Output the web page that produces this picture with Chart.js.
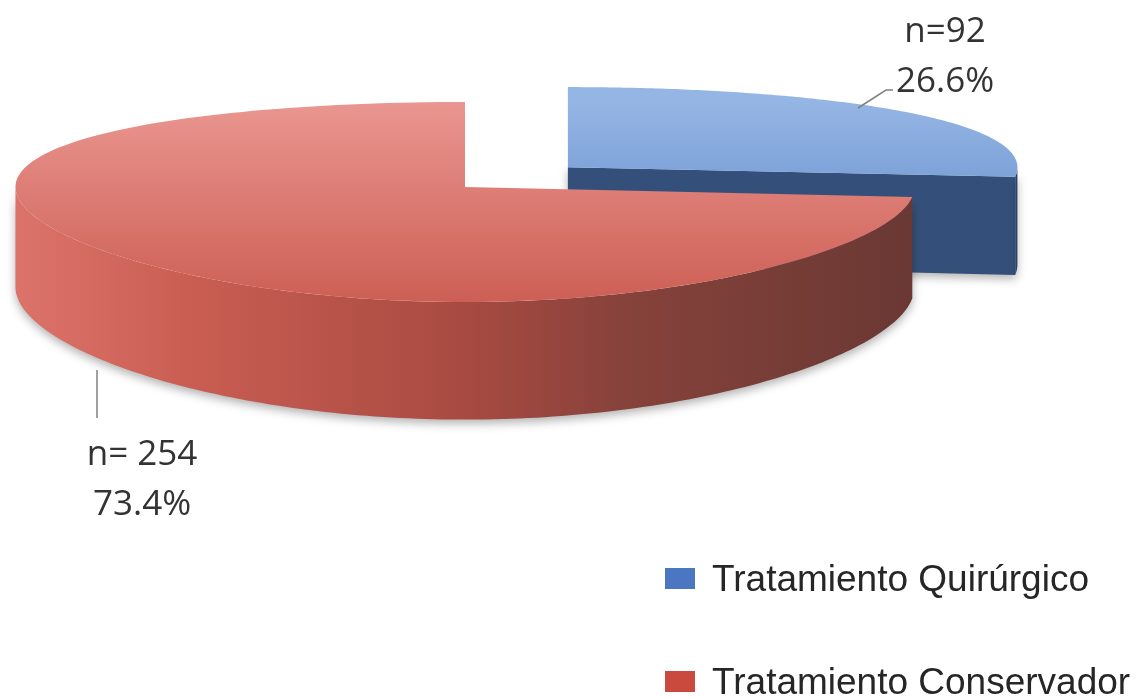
<!DOCTYPE html>
<html><head><meta charset="utf-8">
<script src="https://cdn.jsdelivr.net/npm/chart.js@4.4.0/dist/chart.umd.min.js"></script>
<style>html,body{margin:0;padding:0;background:#fff;} canvas{display:block;}</style>
</head><body>
<canvas id="c" width="1145" height="698"></canvas>
<script>
// ---- data ----
const categories = ['Tratamiento Quirúrgico', 'Tratamiento Conservador'];
const counts = [92, 254];
const countLabels = ['n=92', 'n= 254'];
const percentLabels = ['26.6%', '73.4%'];

// ---- style ----
const explodeOffset = [50, 0];
const legendColors = ['#4a76c2', '#cb4a3e'];
const topBack = ['#95b5e4', '#ea9690'];
const topFront = ['#5784c6', '#cd5f55'];
const sideStops = [
  [[0, '#3c5a86'], [1, '#2c4366']],
  [[0, '#dc736a'], [0.2, '#c95d52'], [0.5, '#a84a41'], [0.68, '#86423b'], [1, '#6a3833']]
];
const radialWall = ['#34507a', '#8a4038'];
const GEO = { rx: 2.775, ry: 0.6034, depth: 0.617, persp: 0.15 };
const LABEL = {
  font: '35px "Open Sans"', color: '#333333',
  pos: [ {x: 945, y1: 42, y2: 92}, {x: 142, y1: 465, y2: 515} ],
  leaders: [ [[893, 90], [886, 90], [858, 108]], [[97, 370], [97, 418]] ]
};
const LEGEND = { x: 665, y: [568, 671], box: [30, 21], textX: 712, font: '37px "Liberation Sans"', color: '#262626' };

function project(g, u, v, h) {
  const w = 1 / (1 - GEO.persp * v);
  return [g.cx + g.rx * u, g.cy + (g.ry * v + g.d * h) * w];
}

const pie3d = {
  id: 'pie3d',
  beforeDatasetsDraw(chart) {
    const ctx = chart.ctx;
    const meta = chart.getDatasetMeta(0);
    const arcs = meta.data;
    const R = arcs[0].outerRadius;
    const g = { cx: arcs[0].x, cy: arcs[0].y, rx: R * GEO.rx, ry: R * GEO.ry, d: R * GEO.depth };
    const N = 160;
    arcs.forEach((arc, i) => {
      const a0 = arc.startAngle, a1 = arc.endAngle;
      const mid = (a0 + a1) / 2;
      const e = (arc.options.offset || 0) / R;
      const du = Math.cos(mid) * e, dv = Math.sin(mid) * e;
      const rim = (a, h) => project(g, du + Math.cos(a), dv + Math.sin(a), h);
      const apexT = project(g, du, dv, 0), apexB = project(g, du, dv, 1);
      ctx.save();
      ctx.shadowColor = 'rgba(0,0,0,0.3)';
      ctx.shadowBlur = 10;
      ctx.shadowOffsetY = 4;
      // visible radial walls
      [[a0, Math.cos(a0) < -1e-6], [a1, Math.cos(a1) > 1e-6]].forEach(([a, vis]) => {
        if (!vis) return;
        const rt = rim(a, 0), rb = rim(a, 1);
        ctx.beginPath();
        ctx.moveTo(apexT[0], apexT[1]); ctx.lineTo(rt[0], rt[1]);
        ctx.lineTo(rb[0], rb[1]); ctx.lineTo(apexB[0], apexB[1]); ctx.closePath();
        ctx.fillStyle = radialWall[i];
        ctx.fill();
      });
      // visible outer wall (front half)
      for (let k = -1; k <= 1; k++) {
        const lo = Math.max(a0, 2 * Math.PI * k), hi = Math.min(a1, Math.PI + 2 * Math.PI * k);
        if (hi <= lo) continue;
        ctx.beginPath();
        for (let s = 0; s <= N; s++) {
          const p = rim(lo + (hi - lo) * s / N, 0);
          s ? ctx.lineTo(p[0], p[1]) : ctx.moveTo(p[0], p[1]);
        }
        for (let s = N; s >= 0; s--) {
          const p = rim(lo + (hi - lo) * s / N, 1);
          ctx.lineTo(p[0], p[1]);
        }
        ctx.closePath();
        const gs = ctx.createLinearGradient(g.cx - g.rx, 0, g.cx + g.rx, 0);
        sideStops[i].forEach(st => gs.addColorStop(st[0], st[1]));
        ctx.fillStyle = gs;
        ctx.fill();
      }
      ctx.restore();
      // top face
      ctx.beginPath();
      ctx.moveTo(apexT[0], apexT[1]);
      for (let s = 0; s <= N; s++) {
        const p = rim(a0 + (a1 - a0) * s / N, 0);
        ctx.lineTo(p[0], p[1]);
      }
      ctx.closePath();
      const yBack = project(g, 0, -1, 0)[1], yFront = project(g, 0, 1, 0)[1];
      const gt = ctx.createLinearGradient(0, yBack, 0, yFront);
      gt.addColorStop(0, topBack[i]);
      gt.addColorStop(1, topFront[i]);
      ctx.fillStyle = gt;
      ctx.fill();
    });
    return false;
  },
  afterDraw(chart) {
    const ctx = chart.ctx;
    ctx.save();
    ctx.strokeStyle = '#808080';
    ctx.lineWidth = 1.5;
    LABEL.leaders.forEach(line => {
      ctx.beginPath();
      line.forEach((p, k) => k ? ctx.lineTo(p[0], p[1]) : ctx.moveTo(p[0], p[1]));
      ctx.stroke();
    });
    ctx.font = LABEL.font;
    ctx.fillStyle = LABEL.color;
    ctx.textAlign = 'center';
    ctx.textBaseline = 'alphabetic';
    counts.forEach((c, i) => {
      const p = LABEL.pos[i];
      ctx.fillText(countLabels[i], p.x, p.y1);
      ctx.fillText(percentLabels[i], p.x, p.y2);
    });
    ctx.textAlign = 'left';
    ctx.textBaseline = 'middle';
    ctx.font = LEGEND.font;
    categories.forEach((name, i) => {
      const y = LEGEND.y[i];
      ctx.fillStyle = legendColors[i];
      ctx.fillRect(LEGEND.x, y, LEGEND.box[0], LEGEND.box[1]);
      ctx.fillStyle = LEGEND.color;
      ctx.fillText(name, LEGEND.textX, y + LEGEND.box[1] / 2 + 2);
    });
    ctx.restore();
  }
};

new Chart(document.getElementById('c'), {
  type: 'pie',
  data: {
    labels: categories,
    datasets: [{ data: counts, backgroundColor: legendColors, offset: explodeOffset, borderWidth: 0 }]
  },
  options: {
    responsive: false,
    animation: false,
    layout: { padding: { left: 0, right: 215, top: 0, bottom: 324 } },
    plugins: { legend: { display: false }, tooltip: { enabled: false } }
  },
  plugins: [pie3d]
});
</script>
</body></html>
